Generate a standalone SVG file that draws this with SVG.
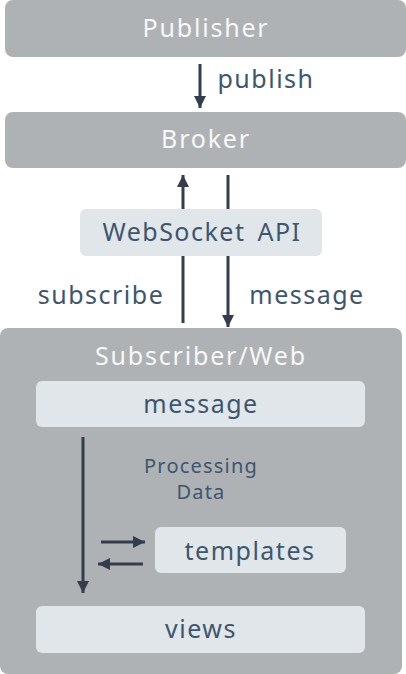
<svg xmlns="http://www.w3.org/2000/svg" width="406" height="674" viewBox="0 0 406 674">
<defs>
<style>
.gray{fill:#aeb2b5}
.light{fill:#e0e6ea}
.t{font-family:"Noto Sans","Liberation Sans",sans-serif;text-anchor:middle}
.w{fill:#f7f8f8;font-size:25px;letter-spacing:1.8px}
.b{fill:#3d566e;font-size:25px;letter-spacing:1.5px}
.s{fill:#3d566e;font-size:20px;letter-spacing:1.2px}
.ln{stroke:#343d4d;stroke-width:3;fill:none}
</style>
<marker id="ah" viewBox="0 0 10 10" refX="10" refY="5" markerWidth="4" markerHeight="4" markerUnits="strokeWidth" orient="auto"><path d="M0,0 L10,5 L0,10 z" fill="#343d4d"/></marker>
</defs>
<g id="publisher"><rect class="gray" x="5" y="0" width="401" height="57" rx="8"/><text class="t w" x="206" y="37">Publisher</text></g>
<g id="broker"><rect class="gray" x="5" y="112" width="401" height="56" rx="8"/><text class="t w" x="206" y="148">Broker</text></g>
<g id="subscriber"><rect class="gray" x="0" y="328" width="402" height="346" rx="8"/><text class="t w" x="201" y="365">Subscriber/Web</text></g>
<g id="connectors">
<line class="ln" x1="200" y1="64" x2="200" y2="108" marker-end="url(#ah)"/>
<line class="ln" x1="183" y1="323" x2="183" y2="175" marker-end="url(#ah)"/>
<line class="ln" x1="228" y1="175" x2="228" y2="327" marker-end="url(#ah)"/>
<line class="ln" x1="83" y1="437" x2="83" y2="593" marker-end="url(#ah)"/>
<line class="ln" x1="101" y1="542" x2="145" y2="542" marker-end="url(#ah)"/>
<line class="ln" x1="143" y1="564" x2="98" y2="564" marker-end="url(#ah)"/>
<text class="t b" x="266" y="88">publish</text>
<text class="t b" x="101" y="304">subscribe</text>
<text class="t b" x="307" y="304">message</text>
</g>
<g id="websocket"><rect class="light" x="80" y="209" width="242" height="47" rx="6"/><text class="t b" x="202" y="241" word-spacing="4px">WebSocket API</text></g>
<g id="message"><rect class="light" x="36" y="381" width="329" height="46" rx="6"/><text class="t b" x="201" y="413">message</text></g>
<g id="processing"><text class="t s" x="201" y="473">Processing</text><text class="t s" x="201" y="499">Data</text></g>
<g id="templates"><rect class="light" x="155" y="527" width="191" height="46" rx="6"/><text class="t b" x="250" y="560">templates</text></g>
<g id="views"><rect class="light" x="36" y="606" width="329" height="47" rx="6"/><text class="t b" x="201" y="638">views</text></g>
</svg>
